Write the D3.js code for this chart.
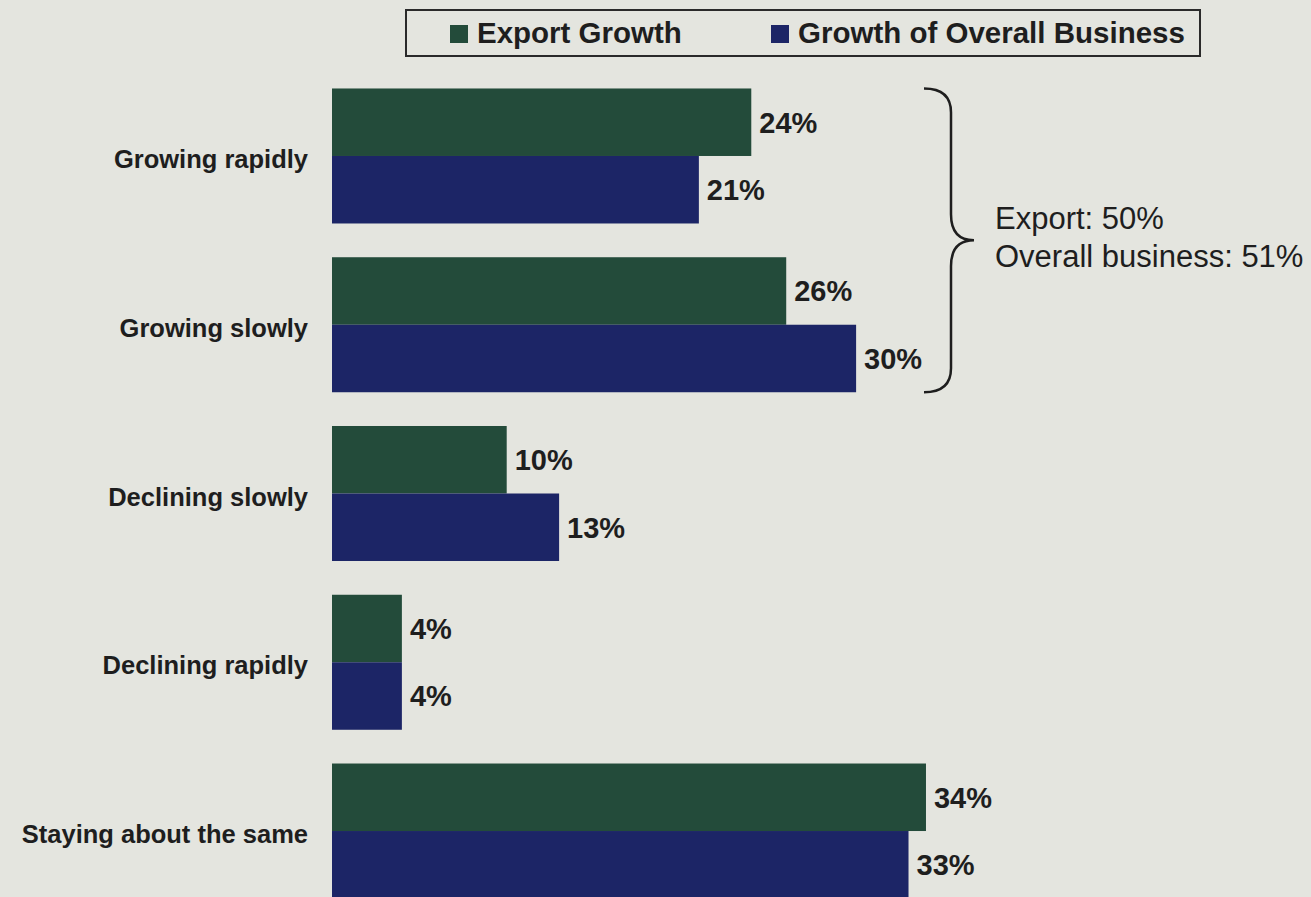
<!DOCTYPE html>
<html>
<head>
<meta charset="utf-8">
<script src="https://cdn.jsdelivr.net/npm/d3@7"></script>
<style>
  html, body { margin: 0; padding: 0; background: #e4e5df; }
  svg { display: block; }
  text { font-family: "Liberation Sans", Arial, sans-serif; fill: #1e1e1e; }
</style>
</head>
<body>
<svg id="chart" width="1311" height="897"></svg>
<script>
// Survey answers: how exports and the overall business are developing
const categories = ["Growing rapidly", "Growing slowly", "Declining slowly", "Declining rapidly", "Staying about the same"];
const seriesNames = ["Export Growth", "Growth of Overall Business"];
const exportGrowth = [24, 26, 10, 4, 34];
const overallGrowth = [21, 30, 13, 4, 33];
const growthGroup = ["Growing rapidly", "Growing slowly"];
const bracketLabels = ["Export", "Overall business"];

const colors = { "Export Growth": "#234b3a", "Growth of Overall Business": "#1c2566" };

const rows = categories.map((c, i) => ({
  category: c,
  values: [
    { series: seriesNames[0], value: exportGrowth[i] },
    { series: seriesNames[1], value: overallGrowth[i] }
  ]
}));

const svg = d3.select("#chart");

const x = d3.scaleLinear().domain([0, 40]).range([332, 332 + 40 * 17.47]);
const y = d3.scaleBand().domain(categories).range([71.6, 915.4]).paddingInner(0.2).paddingOuter(0.1);
const ySub = d3.scaleBand().domain(seriesNames).range([0, y.bandwidth()]);

// Bars
const groups = svg.append("g").selectAll("g.group")
  .data(rows).join("g")
  .attr("class", "group")
  .attr("transform", d => `translate(0,${y(d.category)})`);

groups.selectAll("rect")
  .data(d => d.values).join("rect")
  .attr("x", x(0))
  .attr("y", d => ySub(d.series))
  .attr("width", d => x(d.value) - x(0))
  .attr("height", ySub.bandwidth())
  .attr("fill", d => colors[d.series]);

// Value labels
groups.selectAll("text.value")
  .data(d => d.values).join("text")
  .attr("class", "value")
  .attr("x", d => x(d.value) + 8)
  .attr("y", d => ySub(d.series) + ySub.bandwidth() / 2)
  .attr("dy", "0.36em")
  .attr("font-size", 29)
  .attr("font-weight", "bold")
  .text(d => d.value + "%");

// Category axis labels
const yAxis = d3.axisLeft(y).tickSize(0).tickPadding(0);
const axisG = svg.append("g").attr("transform", "translate(308,4)").call(yAxis);
axisG.select(".domain").remove();
axisG.selectAll("text")
  .attr("font-size", 25.5)
  .attr("font-weight", "bold")
  .attr("font-family", "'Liberation Sans', Arial, sans-serif")
  .attr("fill", "#1e1e1e");

// Curly bracket around the two "growing" groups
const braceTop = y(growthGroup[0]);
const braceBottom = y(growthGroup[1]) + y.bandwidth();
const braceMid = (braceTop + braceBottom) / 2;
const bx = 951, tipX = 974, lx = 924;
const brace = d3.path();
brace.moveTo(lx, braceTop);
brace.quadraticCurveTo(bx, braceTop, bx, braceTop + 24);
brace.lineTo(bx, braceMid - 26);
brace.quadraticCurveTo(bx, braceMid, tipX, braceMid);
brace.quadraticCurveTo(bx, braceMid, bx, braceMid + 26);
brace.lineTo(bx, braceBottom - 24);
brace.quadraticCurveTo(bx, braceBottom, lx, braceBottom);
svg.append("path")
  .attr("d", brace.toString())
  .attr("fill", "none")
  .attr("stroke", "#1e1e1e")
  .attr("stroke-width", 2.5);

const growIdx = growthGroup.map(c => categories.indexOf(c));
const sums = [
  d3.sum(growIdx, i => exportGrowth[i]),
  d3.sum(growIdx, i => overallGrowth[i])
];
svg.append("g").selectAll("text")
  .data(bracketLabels).join("text")
  .attr("x", 995)
  .attr("y", (d, i) => 229 + i * 38)
  .attr("font-size", 31)
  .text((d, i) => `${d}: ${sums[i]}%`);

// Legend
const legend = svg.append("g");
legend.append("rect")
  .attr("x", 406).attr("y", 10)
  .attr("width", 794).attr("height", 46)
  .attr("fill", "none")
  .attr("stroke", "#2a2a2a")
  .attr("stroke-width", 2);
const legendX = [450, 771];
const items = legend.selectAll("g.item")
  .data(seriesNames).join("g")
  .attr("class", "item")
  .attr("transform", (d, i) => `translate(${legendX[i]},0)`);
items.append("rect")
  .attr("x", 0).attr("y", 25)
  .attr("width", 18).attr("height", 18)
  .attr("fill", d => colors[d]);
items.append("text")
  .attr("x", 27).attr("y", 43)
  .attr("font-size", 29.5)
  .attr("font-weight", "bold")
  .text(d => d);
</script>
</body>
</html>
